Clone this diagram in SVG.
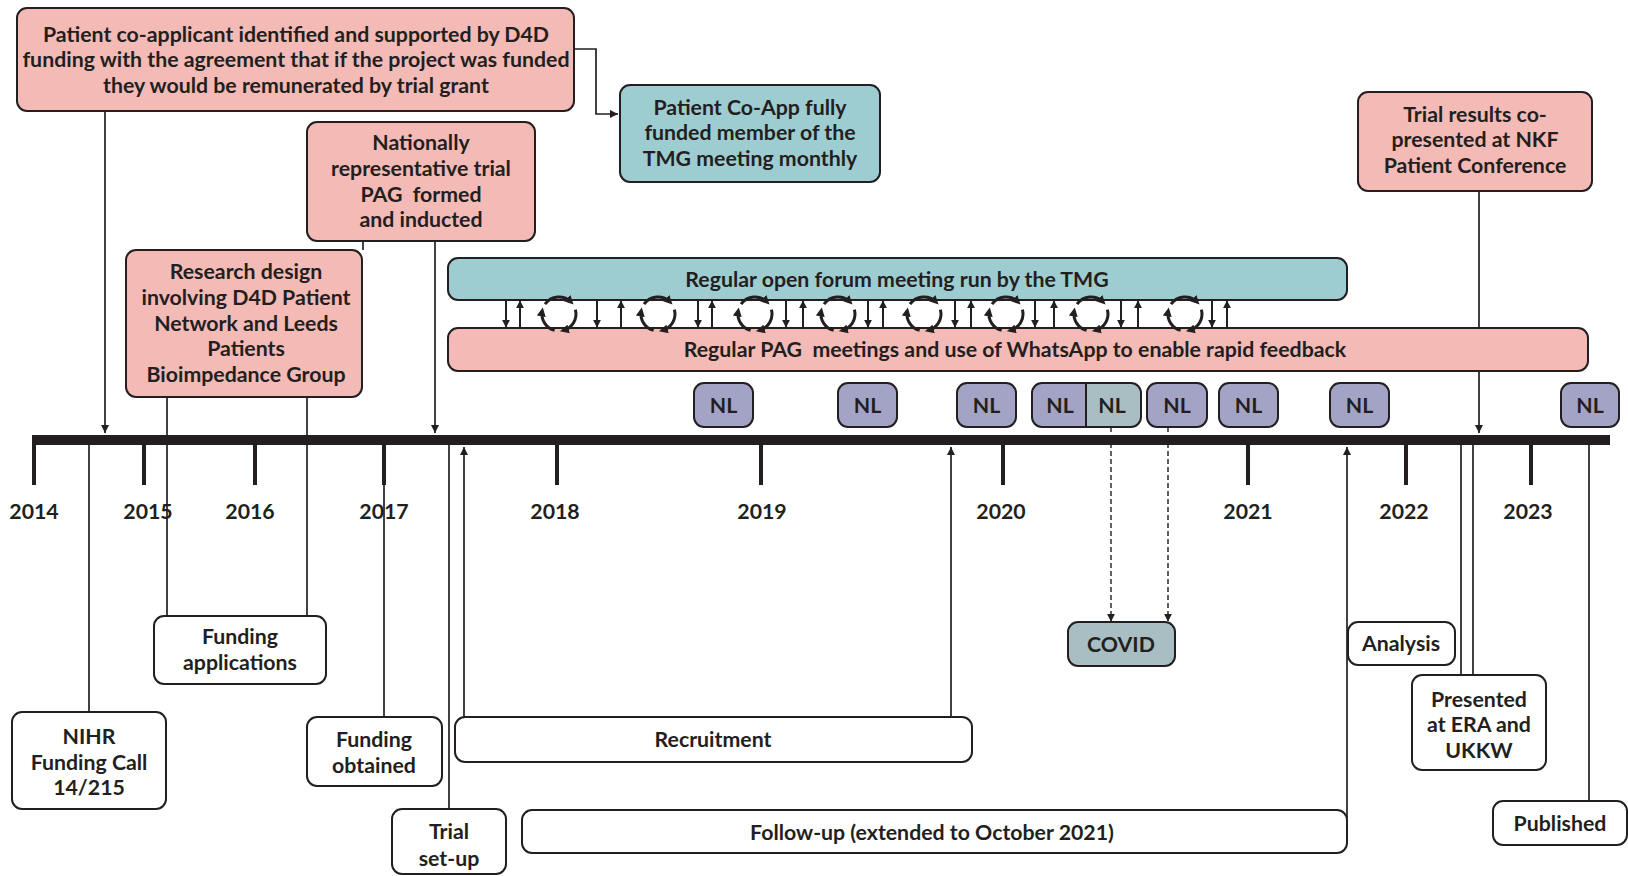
<svg xmlns="http://www.w3.org/2000/svg" width="1628" height="876" viewBox="0 0 1628 876">
<style>
text{font-family:Lato,"Liberation Sans",sans-serif;font-size:21.3px;font-weight:bold;fill:#231f20;text-anchor:middle}
.box{stroke:#231f20;stroke-width:2}
.pink{fill:#f4bab6}
.teal{fill:#9ecdd1}
.lav{fill:#a3a3c6}
.gt{fill:#a9bec2}
.wh{fill:#fff}
.ln{stroke:#231f20;stroke-width:1.7;fill:none}
.fb{stroke:#231f20;stroke-width:2;fill:none}
.dash{stroke:#231f20;stroke-width:1.4;fill:none;stroke-dasharray:5 3}
.tick{stroke:#231f20;stroke-width:4}
.cyc{stroke:#231f20;stroke-width:3;fill:none}
</style>
<defs>
<marker id="ah" viewBox="0 0 10 10" refX="10" refY="5" markerWidth="8" markerHeight="8" markerUnits="userSpaceOnUse" orient="auto"><path d="M0,0 L10,5 L0,10 z" fill="#231f20"/></marker>
<marker id="ahs" viewBox="0 0 10 10" refX="9" refY="5" markerWidth="8" markerHeight="8" markerUnits="userSpaceOnUse" orient="auto"><path d="M0,0 L10,5 L0,10 z" fill="#231f20"/></marker>
<marker id="ahc" viewBox="0 0 10 10" refX="6" refY="5" markerWidth="9" markerHeight="9" markerUnits="userSpaceOnUse" orient="auto"><path d="M0,0 L10,5 L0,10 z" fill="#231f20"/></marker>
<g id="cycle">
<path class="cyc" d="M-14,-9.8 A17,17 0 0 1 12,-12" marker-end="url(#ahc)"/>
<path class="cyc" d="M16.4,-4.4 A17,17 0 0 1 4.4,16.4" marker-end="url(#ahc)"/>
<path class="cyc" d="M-4.4,16.4 A17,17 0 0 1 -16.8,-3" marker-end="url(#ahc)"/>
</g>
</defs>

<g id="connectors">
<path class="ln" d="M105,111 V433" marker-end="url(#ah)"/>
<path class="ln" d="M574,49 H596 V114 H618" marker-end="url(#ah)"/>
<path class="ln" d="M435,241 V433" marker-end="url(#ah)"/>
<path class="ln" d="M363,241 V250"/>
<path class="ln" d="M1479,191 V433" marker-end="url(#ah)"/>
<path class="ln" d="M167,397 V616"/>
<path class="ln" d="M307,397 V616"/>
<path class="ln" d="M89,444 V712"/>
<path class="ln" d="M384,444 V717"/>
<path class="ln" d="M449,444 V809"/>
<path class="ln" d="M464,717 V447" marker-end="url(#ah)"/>
<path class="ln" d="M951,717 V447" marker-end="url(#ah)"/>
<path class="ln" d="M1347,818 V447" marker-end="url(#ah)"/>
<path class="ln" d="M1461,444 V675"/>
<path class="ln" d="M1473,444 V675"/>
<path class="ln" d="M1589,444 V801"/>
<path class="dash" d="M1111,427 V621" marker-end="url(#ahs)"/>
<path class="dash" d="M1168,427 V621" marker-end="url(#ahs)"/>
<g id="feedback">
<path class="fb" d="M506,300 V327" marker-end="url(#ahs)"/><path class="fb" d="M520,328 V301" marker-end="url(#ahs)"/>
<path class="fb" d="M597,300 V327" marker-end="url(#ahs)"/><path class="fb" d="M621,328 V301" marker-end="url(#ahs)"/>
<path class="fb" d="M698,300 V327" marker-end="url(#ahs)"/><path class="fb" d="M712,328 V301" marker-end="url(#ahs)"/>
<path class="fb" d="M786,300 V327" marker-end="url(#ahs)"/><path class="fb" d="M803,328 V301" marker-end="url(#ahs)"/>
<path class="fb" d="M868,300 V327" marker-end="url(#ahs)"/><path class="fb" d="M883,328 V301" marker-end="url(#ahs)"/>
<path class="fb" d="M955,300 V327" marker-end="url(#ahs)"/><path class="fb" d="M971,328 V301" marker-end="url(#ahs)"/>
<path class="fb" d="M1035,300 V327" marker-end="url(#ahs)"/><path class="fb" d="M1054,328 V301" marker-end="url(#ahs)"/>
<path class="fb" d="M1121,300 V327" marker-end="url(#ahs)"/><path class="fb" d="M1138,328 V301" marker-end="url(#ahs)"/>
<path class="fb" d="M1212,300 V327" marker-end="url(#ahs)"/><path class="fb" d="M1227,328 V301" marker-end="url(#ahs)"/>
</g>
</g>

<g id="timeline">
<rect x="32" y="435" width="1578" height="10" fill="#231f20"/>
<line class="tick" x1="34" y1="440" x2="34" y2="485"/>
<line class="tick" x1="144" y1="440" x2="144" y2="485"/>
<line class="tick" x1="255" y1="440" x2="255" y2="485"/>
<line class="tick" x1="384" y1="440" x2="384" y2="485"/>
<line class="tick" x1="557" y1="440" x2="557" y2="485"/>
<line class="tick" x1="761" y1="440" x2="761" y2="485"/>
<line class="tick" x1="1003" y1="440" x2="1003" y2="485"/>
<line class="tick" x1="1248" y1="440" x2="1248" y2="485"/>
<line class="tick" x1="1406" y1="440" x2="1406" y2="485"/>
<line class="tick" x1="1531" y1="440" x2="1531" y2="485"/>
<text x="34" y="519">2014</text>
<text x="148" y="519">2015</text>
<text x="250" y="519">2016</text>
<text x="384" y="519">2017</text>
<text x="555" y="519">2018</text>
<text x="762" y="519">2019</text>
<text x="1001" y="519">2020</text>
<text x="1248" y="519">2021</text>
<text x="1404" y="519">2022</text>
<text x="1528" y="519">2023</text>
</g>

<g id="n-coapplicant"><rect class="box pink" x="17" y="8" width="557" height="103" rx="10"/>
<text x="296" y="42">Patient co-applicant identified and supported by D4D</text>
<text x="296" y="67">funding with the agreement that if the project was funded</text>
<text x="296" y="93">they would be remunerated by trial grant</text></g>

<g id="n-coapp-funded"><rect class="box teal" x="620" y="85" width="260" height="97" rx="10"/>
<text x="750" y="115">Patient Co-App fully</text>
<text x="750" y="140">funded member of the</text>
<text x="750" y="166">TMG meeting monthly</text></g>

<g id="n-pag"><rect class="box pink" x="307" y="122" width="228" height="119" rx="10"/>
<text x="421" y="150">Nationally</text>
<text x="421" y="176">representative trial</text>
<text x="421" y="202" xml:space="preserve">PAG  formed</text>
<text x="421" y="227">and inducted</text></g>

<g id="n-design"><rect class="box pink" x="126" y="250" width="236" height="147" rx="10"/>
<text x="246" y="279">Research design</text>
<text x="246" y="305">involving D4D Patient</text>
<text x="246" y="331">Network and Leeds</text>
<text x="246" y="356">Patients</text>
<text x="246" y="382">Bioimpedance Group</text></g>

<g id="n-nkf"><rect class="box pink" x="1358" y="92" width="234" height="99" rx="10"/>
<text x="1475" y="122">Trial results co-</text>
<text x="1475" y="147">presented at NKF</text>
<text x="1475" y="173">Patient Conference</text></g>

<g id="n-forum"><rect class="box teal" x="448" y="258" width="899" height="42" rx="10"/>
<text x="897" y="287">Regular open forum meeting run by the TMG</text></g>

<g id="n-pagmeet"><rect class="box pink" x="448" y="328" width="1140" height="43" rx="10"/>
<text x="1015" y="357" xml:space="preserve">Regular PAG  meetings and use of WhatsApp to enable rapid feedback</text></g>

<g id="cycles">
<use href="#cycle" x="559" y="314"/>
<use href="#cycle" x="658" y="314"/>
<use href="#cycle" x="755" y="314"/>
<use href="#cycle" x="838" y="314"/>
<use href="#cycle" x="924" y="314"/>
<use href="#cycle" x="1006" y="314"/>
<use href="#cycle" x="1091" y="314"/>
<use href="#cycle" x="1185" y="314"/>
</g>

<g id="n-nl1"><rect class="box lav" x="694" y="383" width="59" height="44" rx="10"/><text x="723.5" y="413">NL</text></g>
<g id="n-nl2"><rect class="box lav" x="838" y="383" width="59" height="44" rx="10"/><text x="867.5" y="413">NL</text></g>
<g id="n-nl3"><rect class="box lav" x="957" y="383" width="59" height="44" rx="10"/><text x="986.5" y="413">NL</text></g>
<g id="n-nl4"><path class="box lav" d="M1086,383 H1042 A10,10 0 0 0 1032,393 V417 A10,10 0 0 0 1042,427 H1086 Z"/>
<path class="box gt" d="M1086,383 H1131 A10,10 0 0 1 1141,393 V417 A10,10 0 0 1 1131,427 H1086 Z"/>
<text x="1060" y="413">NL</text><text x="1112" y="413">NL</text></g>
<g id="n-nl5"><rect class="box lav" x="1147" y="383" width="60" height="44" rx="10"/><text x="1177" y="413">NL</text></g>
<g id="n-nl6"><rect class="box lav" x="1219" y="383" width="59" height="44" rx="10"/><text x="1248.5" y="413">NL</text></g>
<g id="n-nl7"><rect class="box lav" x="1330" y="383" width="59" height="44" rx="10"/><text x="1359.5" y="413">NL</text></g>
<g id="n-nl8"><rect class="box lav" x="1561" y="383" width="58" height="44" rx="10"/><text x="1590" y="413">NL</text></g>

<g id="n-fundapp"><rect class="box wh" x="154" y="616" width="172" height="68" rx="10"/>
<text x="240" y="644">Funding</text><text x="240" y="670">applications</text></g>

<g id="n-nihr"><rect class="box wh" x="12" y="712" width="154" height="97" rx="10"/>
<text x="89" y="744">NIHR</text><text x="89" y="770">Funding Call</text><text x="89" y="795">14/215</text></g>

<g id="n-fundobt"><rect class="box wh" x="307" y="717" width="135" height="69" rx="10"/>
<text x="374" y="747">Funding</text><text x="374" y="773">obtained</text></g>

<g id="n-setup"><rect class="box wh" x="392" y="809" width="114" height="65" rx="10"/>
<text x="449" y="839">Trial</text><text x="449" y="866">set-up</text></g>

<g id="n-recruit"><rect class="box wh" x="455" y="717" width="517" height="45" rx="10"/>
<text x="713" y="747">Recruitment</text></g>

<g id="n-followup"><rect class="box wh" x="522" y="810" width="825" height="43" rx="10"/>
<text x="932" y="840">Follow-up (extended to October 2021)</text></g>

<g id="n-covid"><rect class="box gt" x="1068" y="622" width="107" height="44" rx="10"/>
<text x="1121" y="652">COVID</text></g>

<g id="n-analysis"><rect class="box wh" x="1348" y="622" width="107" height="43" rx="10"/>
<text x="1401" y="651">Analysis</text></g>

<g id="n-presented"><rect class="box wh" x="1412" y="675" width="134" height="95" rx="10"/>
<text x="1479" y="707">Presented</text><text x="1479" y="732">at ERA and</text><text x="1479" y="758">UKKW</text></g>

<g id="n-published"><rect class="box wh" x="1493" y="801" width="134" height="44" rx="10"/>
<text x="1560" y="831">Published</text></g>
</svg>
